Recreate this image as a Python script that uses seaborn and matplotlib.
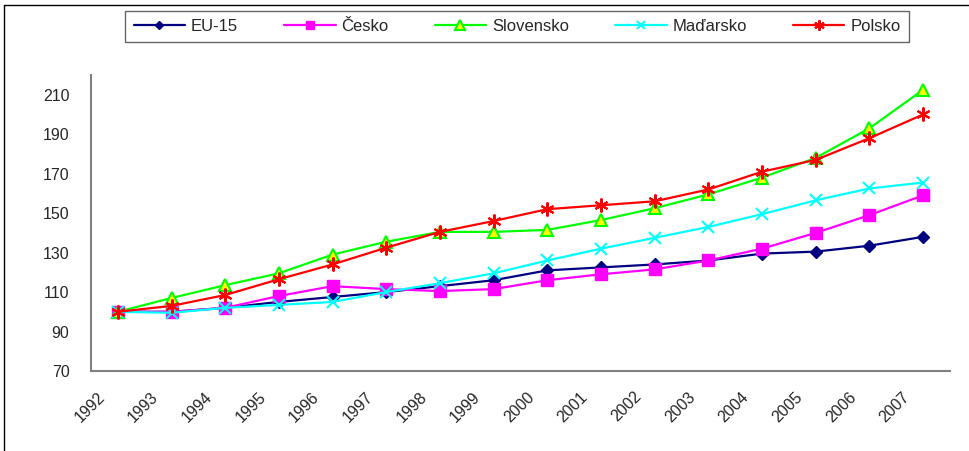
import pandas as pd
import matplotlib.pyplot as plt
import seaborn as sns
import numpy as np
from matplotlib.lines import Line2D
from matplotlib.transforms import ScaledTranslation

# Data (index, 1992 = 100)
years = ['1992', '1993', '1994', '1995', '1996', '1997', '1998', '1999',
         '2000', '2001', '2002', '2003', '2004', '2005', '2006', '2007']
eu15 = [100, 100, 102, 105, 107.5, 110, 113, 116, 121, 122.5, 124, 126, 129.5, 130.5, 133.5, 138]
cesko = [100, 100, 102, 108, 113, 111.5, 110.5, 111.5, 116, 119, 121.5, 126, 132, 140, 149, 159]
slovensko = [100, 107, 113.5, 119.5, 129, 135.5, 140.5, 140.5, 141.5, 146.5, 152.5, 159.5, 168, 178, 193, 212.5]
madarsko = [100, 99.5, 102, 103.5, 105, 110, 114.5, 119.5, 126, 132, 137.5, 143, 149.5, 156.5, 162.5, 165.5]
polsko = [100, 103, 108.5, 116.5, 124, 132.5, 140.5, 146, 152, 154, 156, 162, 171, 177, 188, 200]

series = ['EU-15', 'Česko', 'Slovensko', 'Maďarsko', 'Polsko']
values = [eu15, cesko, slovensko, madarsko, polsko]

rows = []
for name, vals in zip(series, values):
    for i, v in enumerate(vals):
        rows.append({'pos': i + 0.5, 'value': v, 'series': name})
df = pd.DataFrame(rows)

sns.set_style('white')
plt.rcParams['font.family'] = ['Liberation Sans', 'DejaVu Sans']

styles = {
    'EU-15': dict(color='#000080', marker='D', markersize=6, mfc='#000080', mec='#000080'),
    'Česko': dict(color='#FF00FF', marker='s', markersize=8, mfc='#FF00FF', mec='#FF00FF'),
    'Slovensko': dict(color='#00FF00', marker='^', markersize=9, mfc='#FFFF00', mec='#00FF00', mew=1.5),
    'Maďarsko': dict(color='#00FFFF', marker='x', markersize=8, mfc='#00FFFF', mec='#00FFFF', mew=1.5),
    'Polsko': dict(color='#FF0000', marker=(6, 2, 0), markersize=10, mfc='#FF0000', mec='#FF0000', mew=1.5),
}

fig = plt.figure(figsize=(9.69, 4.51), dpi=100)
ax = fig.add_axes([91 / 969, 1 - 371 / 451, (950 - 91) / 969, (371 - 75) / 451])

for name in series:
    st = styles[name]
    sns.lineplot(data=df[df['series'] == name], x='pos', y='value', ax=ax,
                 color=st['color'], marker=st['marker'], markersize=st['markersize'],
                 markerfacecolor=st['mfc'], markeredgecolor=st['mec'],
                 markeredgewidth=st.get('mew', 1), linewidth=1.6, label=name)

ax.set_xlim(0, len(years))
ax.set_ylim(70, 220)
ax.set_yticks(np.arange(70, 211, 20))
ax.set_yticklabels([str(t) for t in range(70, 211, 20)], fontsize=11.5)
ax.set_xticks(np.arange(0, len(years) + 1))
ax.set_xticklabels([])
ax.set_xticks(np.arange(len(years)) + 0.5, minor=True)
ax.set_xticklabels(years, minor=True, rotation=45, ha='right', va='top',
                   rotation_mode='anchor', fontsize=11.5)
ax.tick_params(axis='x', which='minor', length=0, pad=13)
ax.tick_params(axis='x', which='major', length=4, direction='out', color='#808080', width=1)
ax.tick_params(axis='y', length=5.5, direction='out', color='#808080', width=1, pad=10)
offset = ScaledTranslation(-21 / 100, 0, fig.dpi_scale_trans)
for lab in ax.get_xticklabels(minor=True):
    lab.set_transform(lab.get_transform() + offset)

ax.set_xlabel('')
ax.set_ylabel('')
sns.despine(ax=ax)
for sp in ['left', 'bottom']:
    ax.spines[sp].set_color('#808080')
    ax.spines[sp].set_linewidth(1.5)
ax.get_legend().remove()

handles, labels = ax.get_legend_handles_labels()
leg = fig.legend(handles, labels, loc='center', bbox_to_anchor=(517 / 969, 1 - 26.5 / 451),
                 ncol=5, frameon=True, fancybox=False, fontsize=12, handlelength=3.1,
                 columnspacing=2.75, handletextpad=0.35, borderpad=0.5, markerscale=0.75)
leg.get_frame().set_edgecolor('#404040')
leg.get_frame().set_linewidth(1)

# outer chart border (top and left visible)
fig.add_artist(Line2D([4 / 969, 1], [1 - 5 / 451, 1 - 5 / 451], color='black', lw=1, transform=fig.transFigure))
fig.add_artist(Line2D([4 / 969, 4 / 969], [0, 1 - 5 / 451], color='black', lw=1, transform=fig.transFigure))

fig.savefig('out.png', dpi=100)
